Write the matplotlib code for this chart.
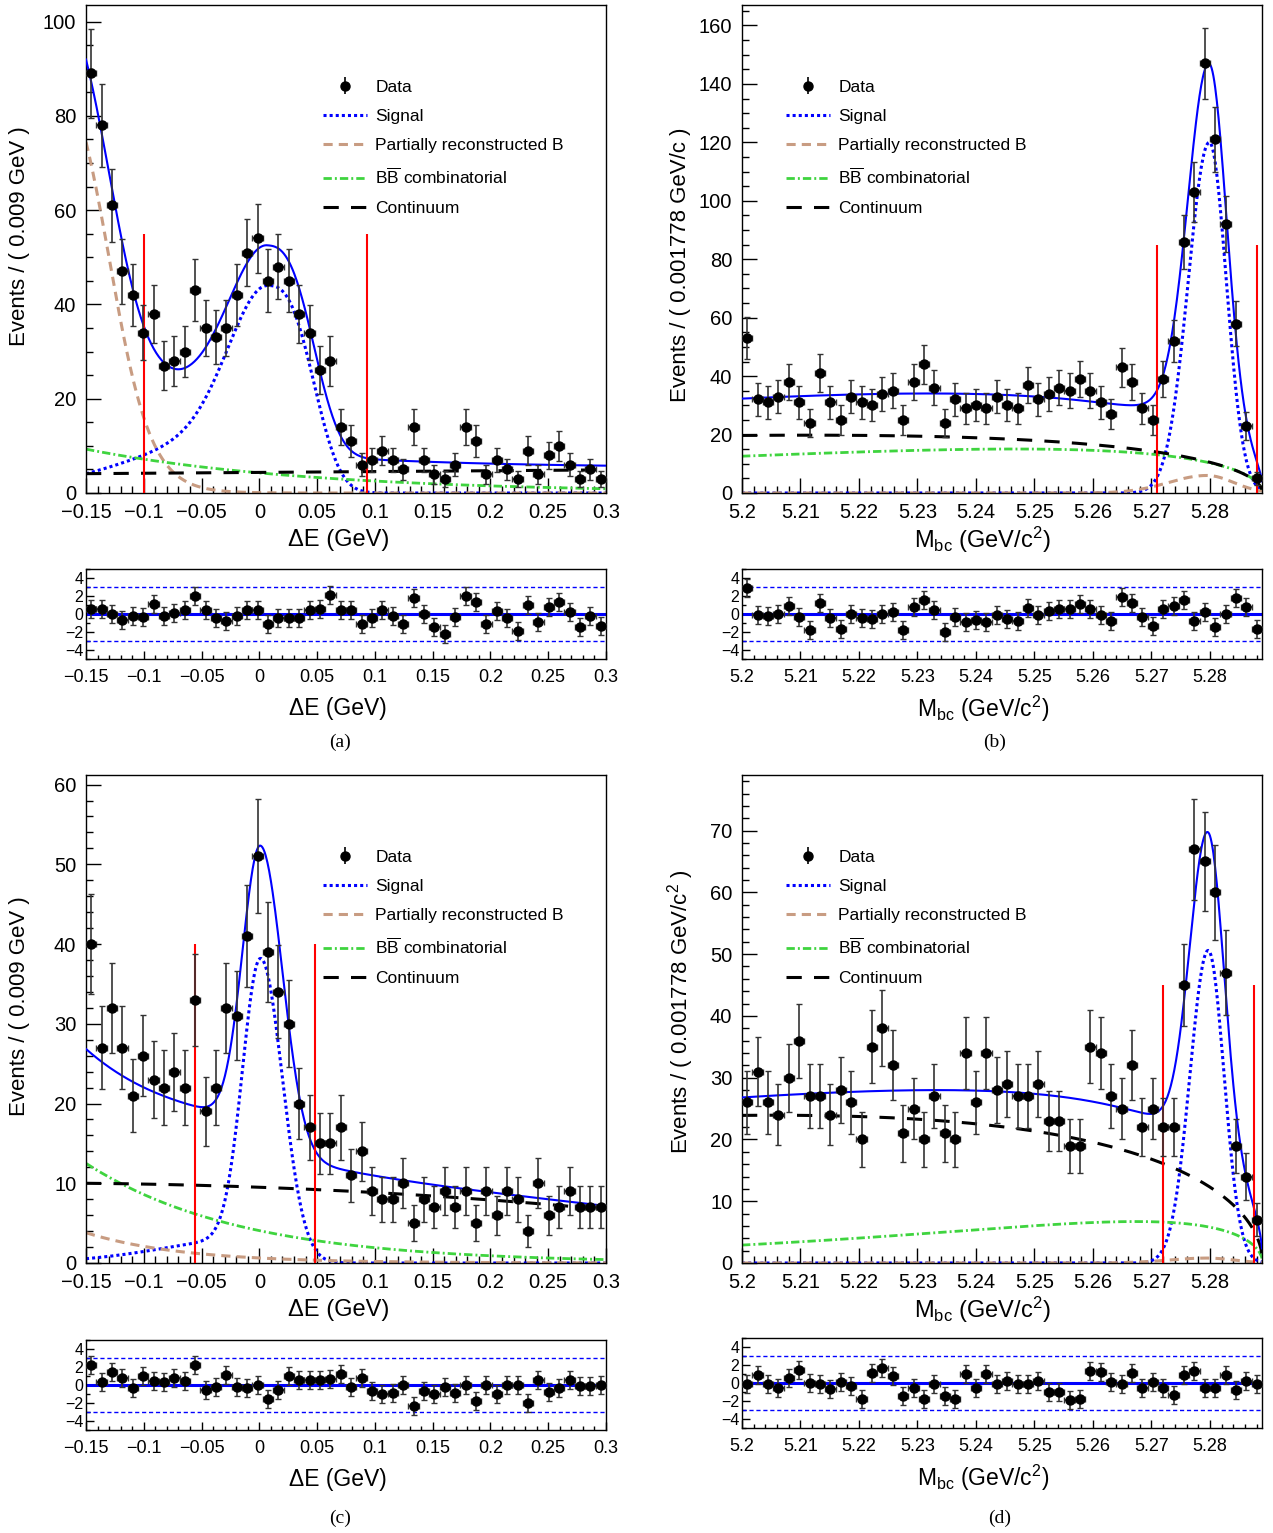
import numpy as np
import matplotlib
matplotlib.use('Agg')
import matplotlib.pyplot as plt
from matplotlib.ticker import MultipleLocator, FuncFormatter

plt.rcParams['font.family'] = ['Liberation Sans', 'DejaVu Sans']
plt.rcParams['mathtext.fontset'] = 'custom'
plt.rcParams['mathtext.rm'] = 'Liberation Sans'
plt.rcParams['mathtext.it'] = 'Liberation Sans:italic'
plt.rcParams['mathtext.bf'] = 'Liberation Sans:bold'
plt.rcParams['axes.linewidth'] = 1.0

# binning
n_bins = 50
de_range = (-0.15, 0.3)
mbc_range = (5.2, 5.2889)
argus_m0 = 5.289

# events per bin
de_a_counts = [89, 78, 61, 47, 42, 34, 38, 27, 28, 30, 43, 35, 33, 35, 42, 51, 54, 45, 48, 45,
               38, 34, 26, 28, 14, 11, 6, 7, 9, 7, 5, 14, 7, 4, 3, 6, 14, 11, 4, 7,
               5, 3, 9, 4, 8, 10, 6, 3, 5, 3]
mbc_b_counts = [53, 32, 31, 33, 38, 31, 24, 41, 31, 25, 33, 31, 30, 34, 35, 25, 38, 44, 36, 24,
                32, 29, 30, 29, 33, 30, 29, 37, 32, 34, 36, 35, 39, 35, 31, 27, 43, 38, 29, 25,
                39, 52, 86, 103, 147, 121, 92, 58, 23, 5]
de_c_counts = [40, 27, 32, 27, 21, 26, 23, 22, 24, 22, 33, 19, 22, 32, 31, 41, 51, 39, 34, 30,
               20, 17, 15, 15, 17, 11, 14, 9, 8, 8, 10, 5, 8, 7, 9, 7, 9, 5, 9, 6,
               9, 8, 4, 10, 6, 7, 9, 7, 7, 7]
mbc_d_counts = [26, 31, 26, 24, 30, 36, 27, 27, 24, 28, 26, 20, 35, 38, 32, 21, 25, 20, 27, 21,
                20, 34, 26, 34, 28, 29, 27, 27, 29, 23, 23, 19, 19, 35, 34, 27, 25, 32, 22, 25,
                22, 22, 45, 67, 65, 60, 47, 19, 14, 7]

# pulls
de_a_pull = [0.6, 0.6, 0.0, -0.7, -0.2, -0.35, 1.1, -0.2, 0.1, 0.4, 2.0, 0.45, -0.5, -0.8, -0.2,
             0.45, 0.4, -1.1, -0.45, -0.45, -0.45, 0.4, 0.55, 2.1, 0.45, 0.4, -1.15, -0.5, 0.4,
             -0.2, -1.15, 1.75, 0.0, -1.5, -2.2, -0.35, 2.0, 1.3, -1.1, 0.3, -0.5, -1.9, 1.0,
             -0.9, 0.75, 1.3, 0.2, -1.5, -0.25, -1.35]
mbc_b_pull = [2.9, -0.1, -0.2, 0.05, 0.85, -0.35, -1.8, 1.25, -0.45, -1.65, -0.05, -0.4, -0.6,
              0.05, 0.25, -1.75, 0.75, 1.5, 0.4, -2.05, -0.35, -0.85, -0.65, -0.85, -0.1, -0.6,
              -0.8, 0.7, -0.1, 0.3, 0.6, 0.5, 1.1, 0.6, -0.1, -0.8, 1.9, 1.25, -0.3, -1.3, 0.6,
              0.85, 1.5, -0.8, 0.2, -1.4, 0.05, 1.8, 0.75, -1.65]
de_c_pull = [2.2, 0.35, 1.4, 0.75, -0.35, 0.95, 0.5, 0.35, 0.75, 0.5, 2.2, -0.55, -0.2, 1.15,
             -0.25, -0.35, 0.0, -1.55, -0.5, 0.95, 0.6, 0.6, 0.6, 0.65, 1.2, -0.2, 0.75, -0.7,
             -1.0, -0.9, -0.05, -2.3, -0.7, -1.0, -0.25, -0.9, -0.05, -1.8, 0.0, -1.05, 0.05,
             -0.05, -2.0, 0.6, -0.8, -0.35, 0.55, -0.15, -0.15, -0.05]
mbc_d_pull = [-0.1, 0.85, -0.1, -0.55, 0.55, 1.5, 0.0, -0.1, -0.7, 0.1, -0.3, -1.75, 1.15, 1.65,
              0.75, -1.45, -0.6, -1.8, -0.1, -1.45, -1.8, 0.95, -0.5, 0.95, -0.1, 0.2, -0.1,
              -0.1, 0.25, -1.0, -0.95, -1.9, -1.8, 1.35, 1.2, 0.15, -0.1, 1.15, -0.6, 0.1,
              -0.55, -1.35, 0.9, 1.3, -0.55, -0.5, 0.85, -0.75, 0.25, -0.1]

# fit components (parameters)
# dE signal: peak, mean, core sigma, tail height, tail sigma, right width, right power
de_a_sig = [44.0, 0.007, 0.033, 14.0, 0.10, 0.037, 2.8]
de_c_sig = [38.2, 0.001, 0.0155, 3.2, 0.08, 0.019, 2.0]
de_a_part = [98.3, -0.1295, 0.018]      # step: height, edge, width
de_c_part = [3.8, 12.0]                 # exponential: start value, slope
de_a_comb = [9.3, 5.2]
de_c_comb = [12.5, 7.5]
de_a_cont = [4.1, 1.78]                 # polynomial in (dE + 0.15)
de_c_cont = [10.0, -1.33, -13.3]
# Mbc: bifurcated gaussians (height, mean, sigma left, sigma right), ARGUS (value at 5.2, c)
mbc_b_sig = [120.0, 5.2799, 0.0036, 0.0029]
mbc_d_sig = [50.6, 5.2797, 0.0031, 0.0027]
mbc_b_part = [6.0, 5.2795, 0.0065, 0.0045]
mbc_d_part = [0.8, 5.2795, 0.0065, 0.0045]
mbc_b_comb = [12.6, -30.9]
mbc_d_comb = [2.9, -60.7]
mbc_b_cont = [19.7, -16.6]
mbc_d_cont = [23.9, -15.4]

# signal box edges
de_a_box = [-0.1, 0.093]
mbc_b_box = [5.271, 5.288]
de_c_box = [-0.056, 0.048]
mbc_d_box = [5.272, 5.2875]


def de_signal(x, p):
    amp, mu, s_core, tail, s_tail, s_r, pw = p
    d = x - mu
    left = (amp - tail) * np.exp(-0.5 * (d / s_core) ** 2) + tail * np.exp(-0.5 * (d / s_tail) ** 2)
    right = amp * np.exp(-0.5 * np.abs(d / s_r) ** pw)
    return np.where(d < 0, left, right)


def step(x, p):
    return p[0] / (1 + np.exp((x - p[1]) / p[2]))


def expo(x, p):
    return p[0] * np.exp(-p[1] * (x - de_range[0]))


def poly(x, p):
    t = x - de_range[0]
    return sum(c * t ** k for k, c in enumerate(p))


def bifur(x, p):
    amp, mu, sl, sr = p
    s = np.where(x < mu, sl, sr)
    return amp * np.exp(-0.5 * ((x - mu) / s) ** 2)


def argus(m, p):
    def shape(v):
        z = np.clip(1 - (v / argus_m0) ** 2, 0, None)
        return v * np.sqrt(z) * np.exp(p[1] * z)
    return p[0] * shape(m) / shape(mbc_range[0])


def tick_fmt(v, pos):
    v = round(v, 5)
    if abs(v) < 1e-9:
        return '0'
    return ('%g' % v).replace('-', '\u2212')


W, H = 1273.0, 1533.0
fig = plt.figure(figsize=(12.73, 15.33), dpi=100)


def px_axes(x0, y0, x1, y1):
    return fig.add_axes([x0 / W, 1 - y1 / H, (x1 - x0) / W, (y1 - y0) / H])


blue = '#0000ff'
c_part = '#c89c82'
c_comb = '#3fd43f'
err_kw = dict(fmt='o', color='black', ms=6.5, ecolor='#333333', elinewidth=1.2,
              capsize=2.2, capthick=1.0)


def draw(main_pos, pull_pos, xr, counts, pulls, comps, ylim, ymaj, ymin, xmaj, xmin,
         box, box_h, xlabel, xlab_x, ylabel, ylab_xy, leg_x, caption, cap_xy):
    x = np.linspace(xr[0], xr[1], 600)
    edges = np.linspace(xr[0], xr[1], n_bins + 1)
    centers = 0.5 * (edges[1:] + edges[:-1])
    bw = edges[1] - edges[0]
    counts = np.array(counts, dtype=float)

    ax = px_axes(*main_pos)
    sig, part, comb, cont = [f(x) for f in comps]
    total = sig + part + comb + cont
    ax.plot(x, total, color=blue, lw=1.5, zorder=3)
    l_sig, = ax.plot(x, sig, color=blue, lw=2.2, ls=(0, (1, 1)), zorder=2)
    l_part, = ax.plot(x, part, color=c_part, lw=2.2, ls=(0, (3, 2)), zorder=2)
    l_comb, = ax.plot(x, comb, color=c_comb, lw=2.0, ls=(0, (3, 1.1, 0.7, 1.1)), zorder=2)
    l_cont, = ax.plot(x, cont, color='black', lw=2.2, ls=(0, (5, 4)), zorder=2)
    ax.vlines(box, 0, box_h, color='red', lw=1.5, zorder=4)
    ax.errorbar(centers, counts, yerr=np.sqrt(counts), xerr=bw / 2, zorder=5, **err_kw)
    # legend entry for the data: marker with a plain vertical bar
    dat = ax.errorbar([np.nan], [np.nan], yerr=[1.0], fmt='o', color='black', ms=6.5,
                      ecolor='black', elinewidth=1.2, capsize=0)
    ax.set_xlim(xr)
    ax.set_ylim(ylim)
    ax.xaxis.set_major_locator(MultipleLocator(xmaj))
    ax.xaxis.set_minor_locator(MultipleLocator(xmin))
    ax.yaxis.set_major_locator(MultipleLocator(ymaj))
    ax.yaxis.set_minor_locator(MultipleLocator(ymin))
    ax.xaxis.set_major_formatter(FuncFormatter(tick_fmt))
    ax.tick_params(which='both', direction='in', top=False, right=False, labelsize=14.5)
    ax.tick_params(which='major', length=10.5, width=1, pad=7)
    ax.tick_params(which='minor', length=5, width=1)
    ax.set_xlabel(xlabel, fontsize=17)
    ax.xaxis.set_label_coords(xlab_x, -0.096)
    ax.xaxis.label.set_va('center')
    ax.set_ylabel(ylabel, fontsize=16)
    ax.yaxis.set_label_coords(*ylab_xy)
    ax.yaxis.label.set_va('center')
    ax.legend([dat, l_sig, l_part, l_comb, l_cont],
              ['Data', 'Signal', 'Partially reconstructed B',
               r'B$\overline{\mathrm{B}}$ combinatorial', 'Continuum'],
              loc='upper left', bbox_to_anchor=(leg_x, 0.847), frameon=False, fontsize=12.5,
              handlelength=2.5, handletextpad=0.5, labelspacing=0.8, borderpad=0,
              borderaxespad=0)

    pax = px_axes(*pull_pos)
    pax.axhline(0, color=blue, lw=2.2)
    pax.axhline(3, color=blue, lw=1.0, ls=(0, (3, 2)))
    pax.axhline(-3, color=blue, lw=1.0, ls=(0, (3, 2)))
    pax.errorbar(centers, pulls, yerr=1.0, xerr=bw / 2, zorder=5, **err_kw)
    pax.set_xlim(xr)
    pax.set_ylim(-5, 5)
    pax.xaxis.set_major_locator(MultipleLocator(xmaj))
    pax.xaxis.set_minor_locator(MultipleLocator(xmin))
    pax.yaxis.set_major_locator(MultipleLocator(2))
    pax.yaxis.set_minor_locator(MultipleLocator(1))
    pax.xaxis.set_major_formatter(FuncFormatter(tick_fmt))
    pax.yaxis.set_major_formatter(FuncFormatter(tick_fmt))
    pax.tick_params(which='both', direction='in', top=False, right=False)
    pax.tick_params(axis='x', labelsize=13, pad=7)
    pax.tick_params(axis='y', labelsize=11.5, pad=2)
    pax.tick_params(which='major', length=6, width=1)
    pax.tick_params(which='minor', length=3, width=1)
    pax.set_xlabel(xlabel, fontsize=16.5)
    pax.xaxis.set_label_coords(xlab_x, -0.55)
    pax.xaxis.label.set_va('center')

    fig.text(cap_xy[0] / W, 1 - cap_xy[1] / H, caption, family='Liberation Serif',
             fontsize=14, ha='center', va='center')


de_lab = '\u0394E (GeV)'
mbc_lab = r'M$_{\mathrm{bc}}$ (GeV/c$^{2}$)'

draw((86, 5, 606, 493), (86, 569, 606, 659), de_range, de_a_counts, de_a_pull,
     [lambda v: de_signal(v, de_a_sig), lambda v: step(v, de_a_part),
      lambda v: expo(v, de_a_comb), lambda v: poly(v, de_a_cont)],
     (0, 103.5), 20, 5, 0.05, 0.01, de_a_box, 55,
     de_lab, 0.485, 'Events / ( 0.009 GeV )', (-0.127, 0.527), 0.456, '(a)', (340, 742))

draw((742, 5, 1262, 493), (742, 569, 1262, 659), mbc_range, mbc_b_counts, mbc_b_pull,
     [lambda v: bifur(v, mbc_b_sig), lambda v: bifur(v, mbc_b_part),
      lambda v: argus(v, mbc_b_comb), lambda v: argus(v, mbc_b_cont)],
     (0, 167), 20, 5, 0.01, 0.002, mbc_b_box, 85,
     mbc_lab, 0.463, 'Events / ( 0.001778 GeV/c )', (-0.119, 0.467), 0.085, '(b)', (995, 742))

draw((86, 775, 606, 1263), (86, 1340, 606, 1430), de_range, de_c_counts, de_c_pull,
     [lambda v: de_signal(v, de_c_sig), lambda v: expo(v, de_c_part),
      lambda v: expo(v, de_c_comb), lambda v: poly(v, de_c_cont)],
     (0, 61.2), 10, 2, 0.05, 0.01, de_c_box, 40,
     de_lab, 0.485, 'Events / ( 0.009 GeV )', (-0.127, 0.527), 0.456, '(c)', (340, 1518))

draw((742, 775, 1262, 1263), (742, 1338, 1262, 1428), mbc_range, mbc_d_counts, mbc_d_pull,
     [lambda v: bifur(v, mbc_d_sig), lambda v: bifur(v, mbc_d_part),
      lambda v: argus(v, mbc_d_comb), lambda v: argus(v, mbc_d_cont)],
     (0, 79), 10, 2, 0.01, 0.002, mbc_d_box, 45,
     mbc_lab, 0.463, 'Events / ( 0.001778 GeV/c$^{2}$ )', (-0.119, 0.514), 0.085, '(d)',
     (1000, 1518))

fig.savefig('out.png', dpi=100)
